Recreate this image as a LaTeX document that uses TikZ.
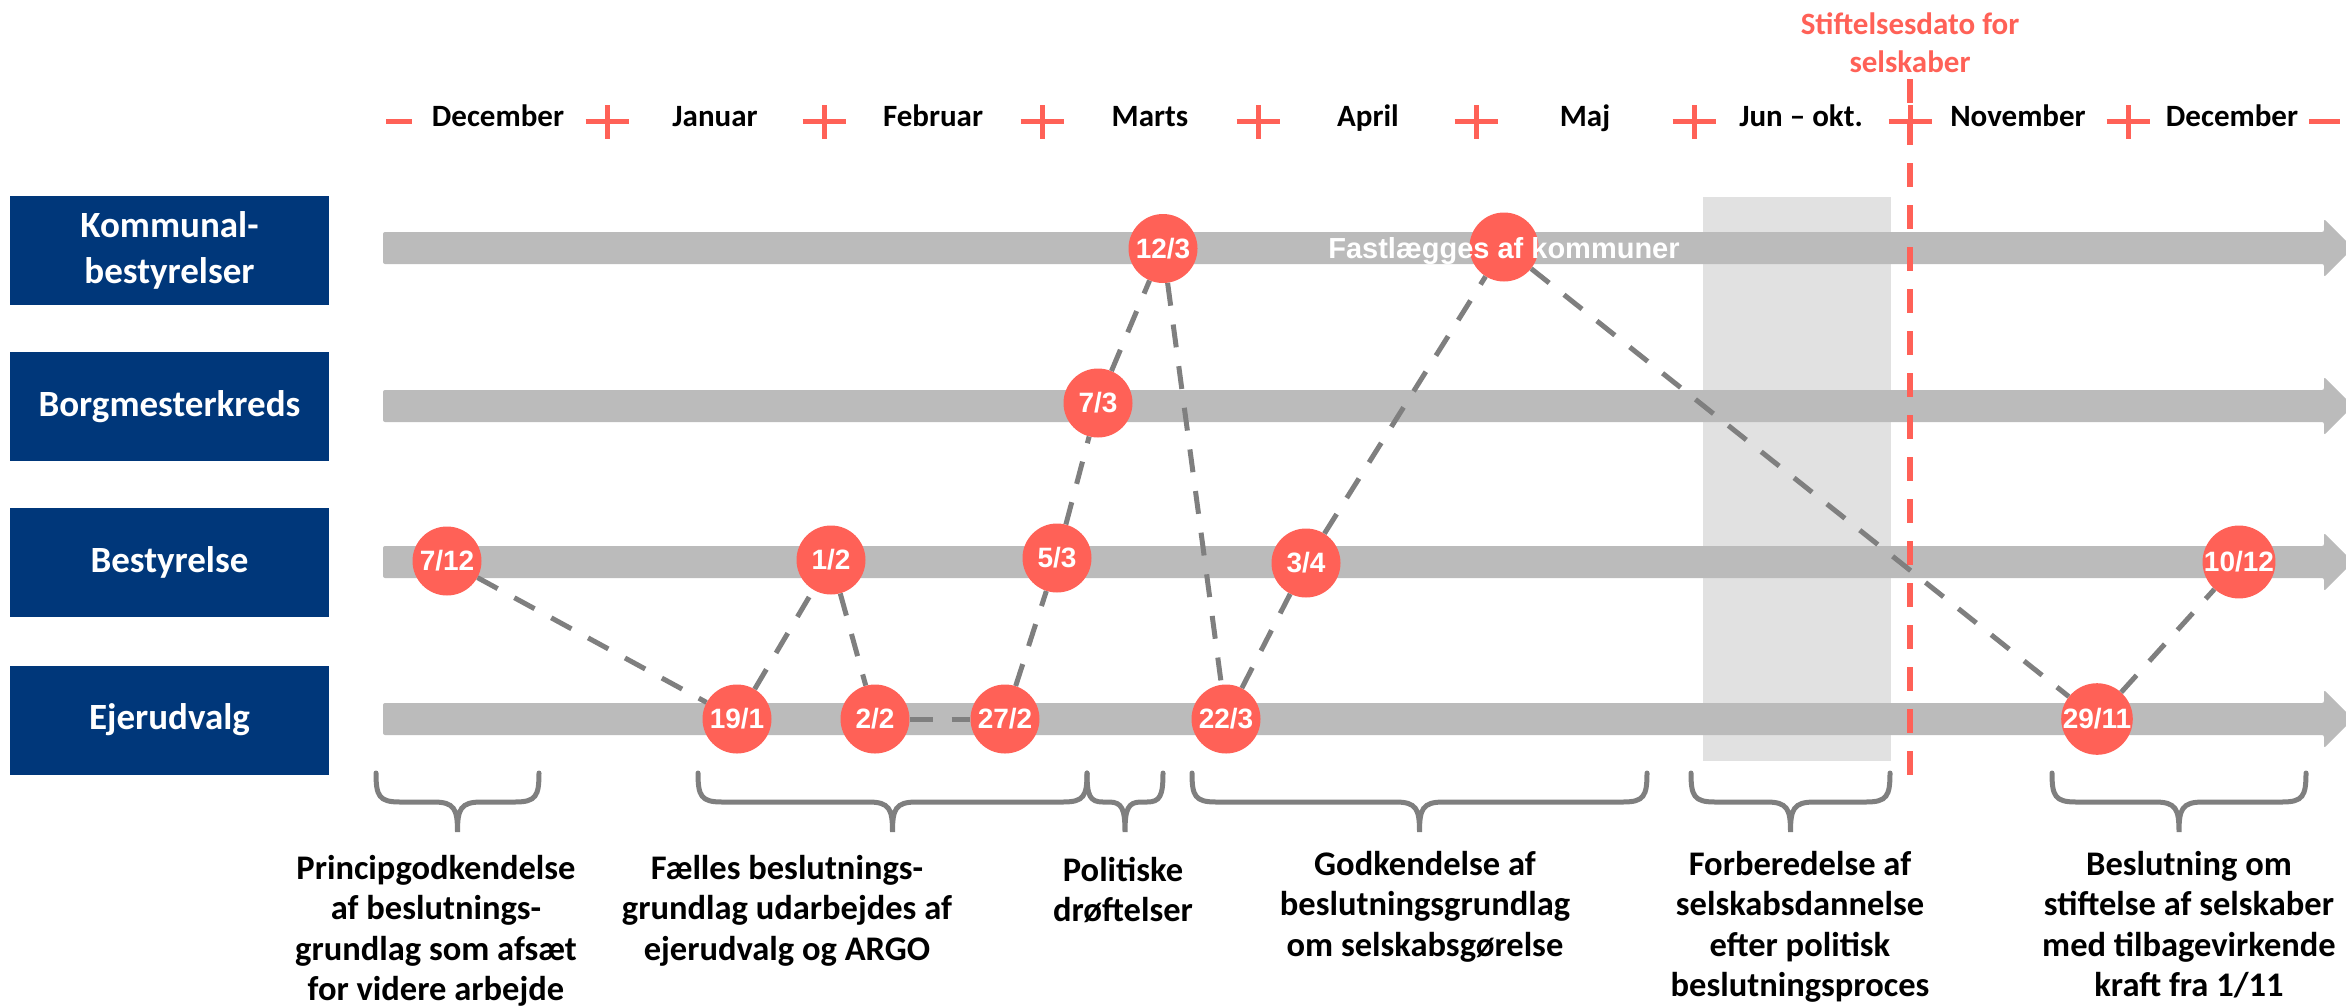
\documentclass[tikz,border=0pt]{standalone}
\usepackage{fontspec}
\setmainfont{Carlito}
\newfontfamily\arialfont{Liberation Sans}

\definecolor{navy}{HTML}{00377A}
\definecolor{coral}{HTML}{FF6157}
\definecolor{bargray}{HTML}{BBBBBB}
\definecolor{boxgray}{HTML}{E1E1E1}
\definecolor{linkgray}{HTML}{7F7F7F}

\tikzset{
  rowbox/.style={fill=navy, text=white, minimum width=319pt, minimum height=109pt,
    inner sep=0pt, align=center, font=\fontsize{37}{46}\selectfont\bfseries},
  datecircle/.style={circle, fill=coral, minimum size=69pt, inner sep=0pt, text=white,
    font=\arialfont\fontsize{28}{30}\selectfont\bfseries},
  linkline/.style={draw=linkgray, line width=5pt, dash pattern=on 23pt off 19pt},
  monthlabel/.style={anchor=base, inner sep=0pt, font=\fontsize{31}{37}\selectfont\bfseries},
  monthtick/.style={draw=coral, line width=5pt},
  timebar/.style={fill=bargray, rounded corners=2pt},
  bracepath/.style={draw=linkgray, line width=5pt, line cap=round},
  phaselabel/.style={anchor=base, inner sep=0pt, align=center,
    font=\fontsize{34.5}{40.5}\selectfont\bfseries},
}

% curly brace opening downwards: left x, right x, arm radius
\newcommand\phasebrace[3]{%
  \draw[bracepath] (#1,773) .. controls (#1,796) and ({#1+3},802) .. ({#1+#3},802)
    -- ({(#1+#2)/2-#3},802) .. controls ({(#1+#2)/2-3},802) and ({(#1+#2)/2},809) .. ({(#1+#2)/2},832)
    .. controls ({(#1+#2)/2},809) and ({(#1+#2)/2+3},802) .. ({(#1+#2)/2+#3},802)
    -- ({#2-#3},802) .. controls ({#2-3},802) and (#2,796) .. (#2,773);}

\begin{document}
\begin{tikzpicture}[x=1pt, y=-1pt]
\useasboundingbox (0,0) rectangle (2346,1005);
\clip (0,0) rectangle (2346,1005);

% period of company formation
\fill[boxgray] (1703,197) rectangle (1891,761);

% time bars with arrow heads
\foreach \y in {248,406,562,719} {
  \fill[timebar] (383,\y-16) -- (2324,\y-16) -- (2324,\y-29) -- (2353,\y)
    -- (2324,\y+29) -- (2324,\y+16) -- (383,\y+16) -- cycle;
}

% founding date marker
\coordinate (stiftTop) at (1910,79);
\coordinate (stiftBot) at (1910,775);
\draw[coral, line width=6pt, dash pattern=on 24pt off 18pt] (stiftTop) -- (stiftBot);
\node[inner sep=0pt, align=center, text=coral, font=\fontsize{31}{38}\selectfont\bfseries,
  anchor=base] (stift) at (1910,72) {Stiftelsesdato for\\selskaber};

% month scale
\draw[monthtick] (386,121) -- (412,121);
\draw[monthtick] (2309,121) -- (2340,121);
\foreach \x in {607,824,1042,1258,1476,1694,1910,2128} {
  \draw[monthtick] (\x-21.5,121) -- (\x+21.5,121);
  \draw[monthtick] (\x,105) -- (\x,139);
}
\node[monthlabel] (mDecA) at (498,126) {December};
\node[monthlabel] (mJan) at (715,126) {Januar};
\node[monthlabel] (mFeb) at (933,126) {Februar};
\node[monthlabel] (mMar) at (1150,126) {Marts};
\node[monthlabel] (mApr) at (1368,126) {April};
\node[monthlabel] (mMaj) at (1585,126) {Maj};
\node[monthlabel] (mJun) at (1801,126) {Jun – okt.};
\node[monthlabel] (mNov) at (2018,126) {November};
\node[monthlabel] (mDecB) at (2232,126) {December};

% row headers
\node[rowbox] (rKom) at (169.5,250.5) {Kommunal-\\bestyrelser};
\node[rowbox] (rBorg) at (169.5,406.5) {Borgmesterkreds};
\node[rowbox] (rBest) at (169.5,562.5) {Bestyrelse};
\node[rowbox] (rEjer) at (169.5,720) {Ejerudvalg};

% meeting dates
\node[datecircle] (c712) at (447,561) {7/12};
\node[datecircle] (c12) at (831,560) {1/2};
\node[datecircle] (c53) at (1057,558) {5/3};
\node[datecircle] (c191) at (737,719) {19/1};
\node[datecircle] (c22) at (875,719) {2/2};
\node[datecircle] (c272) at (1005,719) {27/2};
\node[datecircle] (c123) at (1163,248.5) {12/3};
\node[datecircle] (c73) at (1098,403) {7/3};
\node[datecircle] (c223) at (1226,719) {22/3};
\node[datecircle] (c34) at (1306,563) {3/4};
\node[datecircle] (ckom) at (1504,247) {};
\node[datecircle] (c2911) at (2097,719) {29/11};
\node[datecircle] (c1012) at (2239,562) {10/12};

% process flow
\draw[linkline] (c712) -- (c191);
\draw[linkline] (c191) -- (c12);
\draw[linkline] (c12) -- (c22);
\draw[linkline] (c22) -- (c272);
\draw[linkline] (c272) -- (c53);
\draw[linkline] (c53) -- (c73);
\draw[linkline] (c73) -- (c123);
\draw[linkline] (c123) -- (c223);
\draw[linkline] (c223) -- (c34);
\draw[linkline] (c34) -- (ckom);
\draw[linkline] (ckom) -- (c2911);
\draw[linkline] (c2911) -- (c1012);

\node[anchor=base, inner sep=0pt, text=white, font=\arialfont\fontsize{29}{32}\selectfont\bfseries]
  (fast) at (1504,258) {Fastlægges af kommuner};

% phases
\phasebrace{376}{539}{24}
\phasebrace{698}{1087}{24}
\phasebrace{1087}{1163}{16}
\phasebrace{1192}{1647}{24}
\phasebrace{1691}{1890}{24}
\phasebrace{2052}{2306}{24}

% the base anchor of a multi-line label is the baseline of its last line
\node[phaselabel] (p1) at (436,1000.5)
  {Principgodkendelse\\af beslutnings-\\grundlag som afsæt\\for videre arbejde};
\node[phaselabel] (p2) at (787,960)
  {Fælles beslutnings-\\grundlag udarbejdes af\\ejerudvalg og ARGO};
\node[phaselabel] (p3) at (1123,921.5) {Politiske\\drøftelser};
\node[phaselabel] (p4) at (1425,956)
  {Godkendelse af\\beslutningsgrundlag\\om selskabsgørelse};
\node[phaselabel] (p5) at (1800,996.5)
  {Forberedelse af\\selskabsdannelse\\efter politisk\\beslutningsproces};
\node[phaselabel] (p6) at (2189,996.5)
  {Beslutning om\\stiftelse af selskaber\\med tilbagevirkende\\kraft fra 1/11};
\end{tikzpicture}
\end{document}
